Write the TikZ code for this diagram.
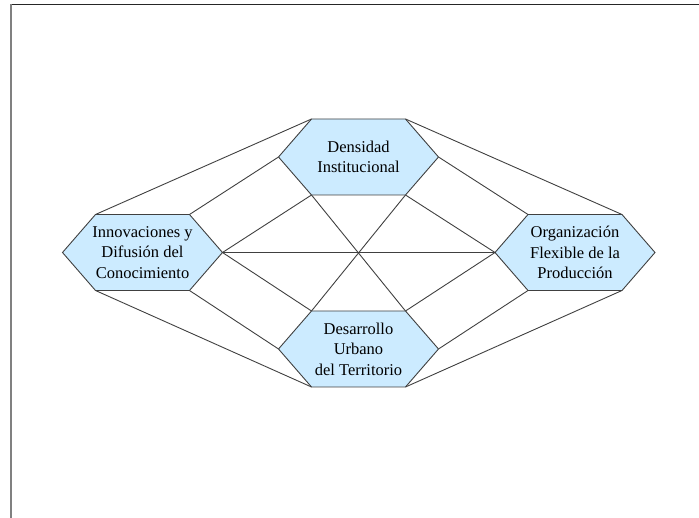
\documentclass[tikz,border=0pt]{standalone}
\usepackage{fontspec}
\setmainfont{Liberation Serif}
\definecolor{hexfill}{RGB}{204,235,255}
\definecolor{linegray}{RGB}{64,64,64}

% hexagon with corner coordinates name-tl, name-tr, name-r, name-br, name-bl, name-l
\newcommand{\hexnode}[4]{%
  \begin{scope}[shift={(#2,#3)}]
    \coordinate (#1-tl) at (-47,-38);
    \coordinate (#1-tr) at (47,-38);
    \coordinate (#1-r) at (80,0);
    \coordinate (#1-br) at (47,38);
    \coordinate (#1-bl) at (-47,38);
    \coordinate (#1-l) at (-80,0);
  \end{scope}
  \filldraw[hexa] (#1-tl) -- (#1-tr) -- (#1-r) -- (#1-br) -- (#1-bl) -- (#1-l) -- cycle;
  \node[hexlabel] (#1) at (#2,#3) {#4};
}

\begin{document}
\begin{tikzpicture}[x=1pt,y=-1pt,
    hexa/.style={fill=hexfill,draw=linegray,line width=0.9pt},
    wire/.style={draw=linegray,line width=0.9pt},
    hexlabel/.style={align=center,inner sep=0pt,font=\fontsize{16.5}{20.5}\selectfont}]
    \useasboundingbox (0,0) rectangle (699,518);

    %Frame
    \draw[black!85,line width=1pt] (10,4.5) -- (699,4.5);
    \draw[black!50,line width=1.8pt] (11,4) -- (11,518);

    %Hexagons
    \hexnode{top}{358.5}{157}{Densidad\\Institucional}
    \hexnode{left}{142.5}{252.5}{Innovaciones y\\Difusión del\\Conocimiento}
    \hexnode{right}{575}{252.5}{Organización\\Flexible de la\\Producción}
    \hexnode{bot}{358.5}{349}{Desarrollo\\Urbano\\del Territorio}

    % Outer lines
    \foreach \a/\b in {top-tl/left-tl, top-l/left-tr, top-tr/right-tr, top-r/right-tl,
                       left-bl/bot-bl, left-br/bot-l, right-br/bot-br, right-bl/bot-r}
        \draw[wire] (\a) -- (\b);

    % Inner lines
    \foreach \a/\b in {top-bl/left-r, top-br/right-l, left-r/bot-tl, right-l/bot-tr,
                       left-r/right-l, top-bl/bot-tr, top-br/bot-tl}
        \draw[wire] (\a) -- (\b);
\end{tikzpicture}
\end{document}
